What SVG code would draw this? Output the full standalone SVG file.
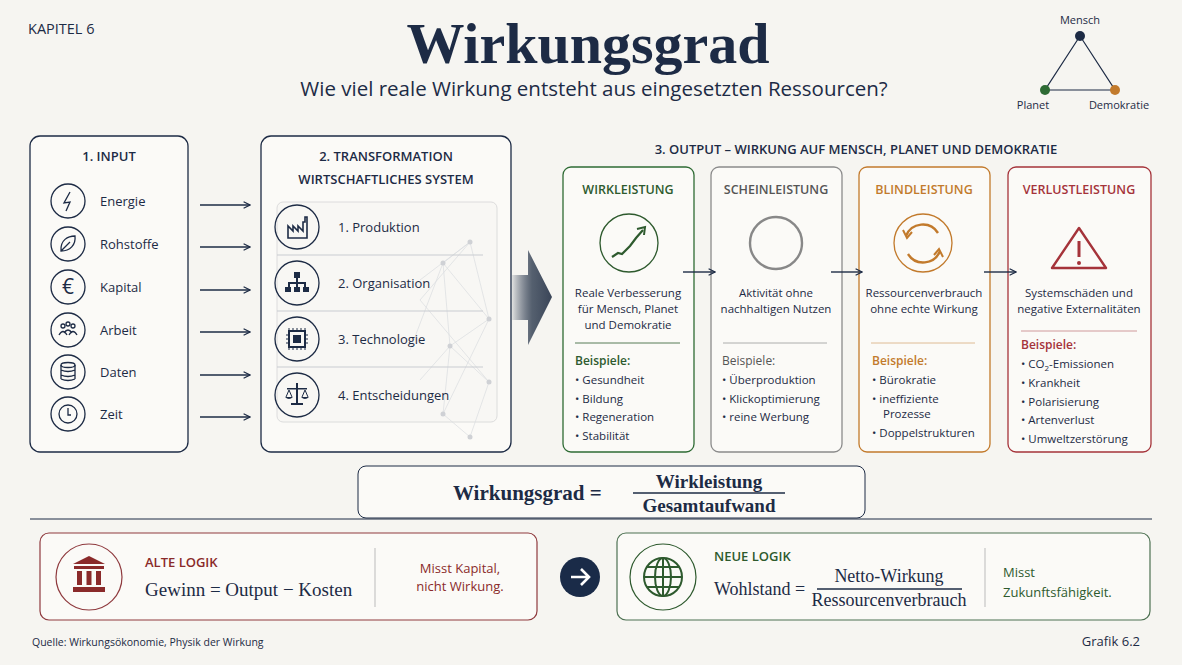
<svg xmlns="http://www.w3.org/2000/svg" width="1182" height="665" viewBox="0 0 1182 665">
<defs>
<style>
.s{font-family:"Open Sans","Liberation Sans",sans-serif;fill:#1d2b45}
.sr{font-family:"Liberation Serif","DejaVu Serif",serif;fill:#1d2b45}
.box{fill:#fbfaf7;stroke:#1d2b45;stroke-width:1.3}
.ic{fill:none;stroke:#1d2b45;stroke-width:1.3}
.ln{stroke:#1d2b45;stroke-width:1.4;fill:none}
.t{font-size:13px}
.c{text-anchor:middle}
.h{font-size:13px;font-weight:600}
</style>
<marker id="ah" viewBox="0 0 10 10" refX="9" refY="5" markerWidth="8" markerHeight="8" orient="auto" markerUnits="userSpaceOnUse"><path d="M1 1 L9 5 L1 9" fill="none" stroke="#1d2b45" stroke-width="1.5"/></marker>
<linearGradient id="ga" x1="0" x2="1" y1="0" y2="0"><stop offset="0" stop-color="#1d2b45" stop-opacity="0.1"/><stop offset="0.5" stop-color="#55606f"/><stop offset="1" stop-color="#3a4558"/></linearGradient>
</defs>
<rect width="1182" height="665" fill="#f6f5f1"/>
<text x="28" y="34" class="s" font-size="14.5">KAPITEL 6</text>
<text x="588" y="63" class="sr c" font-size="58" font-weight="bold">Wirkungsgrad</text>
<text x="594" y="96" class="s c" font-size="20.5">Wie viel reale Wirkung entsteht aus eingesetzten Ressourcen?</text>
<g id="triangle">
<path d="M1080 36 L1045 90 L1115 90 Z" fill="none" stroke="#1d2b45" stroke-width="1.2"/>
<circle cx="1080" cy="36" r="5" fill="#1d2b45"/><circle cx="1045" cy="90" r="5" fill="#2e6b34"/><circle cx="1115" cy="90" r="5" fill="#c27a2c"/>
<text x="1080" y="24" class="s c" font-size="11">Mensch</text>
<text x="1033" y="109" class="s c" font-size="11">Planet</text>
<text x="1119" y="109" class="s c" font-size="11">Demokratie</text>
</g>
<g id="input">
<rect x="30" y="136" width="158" height="316" rx="10" class="box"/>
<text x="109" y="161" class="s c h">1. INPUT</text>
<g class="ic"><circle cx="68" cy="201" r="17"/><circle cx="68" cy="244" r="17"/><circle cx="68" cy="287" r="17"/><circle cx="68" cy="330" r="17"/><circle cx="68" cy="372" r="17"/><circle cx="68" cy="414" r="17"/>
<path d="M70 192 L64 203 L70 202 L66 211"/>
<path d="M61 251 C60 240 68 236 75 236 C76 245 70 251 61 251 Z M61 251 L70 242"/>
<ellipse cx="68" cy="365" rx="7" ry="2.5"/><path d="M61 365 V379 M75 365 V379 M61 370 Q68 373 75 370 M61 375 Q68 378 75 375 M61 379 Q68 382 75 379"/>
<circle cx="68" cy="414" r="9"/><path d="M68 408 V415 H71"/>
<circle cx="63" cy="326" r="2"/><circle cx="68" cy="324" r="2"/><circle cx="73" cy="326" r="2"/><path d="M59 335 Q63 328 67 335 M64 333 Q68 327 72 333 M69 335 Q73 328 77 335"/>
</g>
<text x="68" y="294" class="s c" font-size="21">€</text>
<text x="100" y="206" class="s t">Energie</text><text x="100" y="249" class="s t">Rohstoffe</text><text x="100" y="292" class="s t">Kapital</text><text x="100" y="335" class="s t">Arbeit</text><text x="100" y="377" class="s t">Daten</text><text x="100" y="419" class="s t">Zeit</text>
</g>
<g id="transformation">
<rect x="261" y="136" width="250" height="316" rx="10" class="box"/>
<text x="386" y="161" class="s c h">2. TRANSFORMATION</text>
<text x="386" y="184" class="s c h">WIRTSCHAFTLICHES SYSTEM</text>
<rect x="277" y="202" width="220" height="220" rx="6" fill="#f8f7f4" stroke="#dcdcdc"/>
<g stroke="#dadcdf" stroke-width="0.7" fill="none"><path d="M470 242 L443 263 L489 319 L450 346 L489 382 L470 437 L443 414 L450 346 M470 242 L489 319 M443 263 L450 346 M470 242 L420 300 L489 382 M443 414 L489 319 M420 280 L470 242 M410 350 L443 263 M420 380 L450 346"/></g>
<g fill="#cfd1d5"><circle cx="470" cy="242" r="2.5"/><circle cx="443" cy="263" r="2.5"/><circle cx="489" cy="319" r="2.5"/><circle cx="450" cy="346" r="2.5"/><circle cx="489" cy="382" r="2.5"/><circle cx="443" cy="414" r="2.5"/><circle cx="470" cy="437" r="2.5"/></g>
<path d="M277 255 H483 M277 311 H483 M277 367 H483" stroke="#c9ccd1"/>
<g class="ic"><circle cx="297" cy="227" r="22"/><circle cx="297" cy="283" r="22"/><circle cx="297" cy="339" r="22"/><circle cx="297" cy="395" r="22"/></g>
<g fill="#1d2b45">
<path d="M288 238 V226 L293 231 V226 L298 231 V226 L303 231 V222 H305 V217 H307 V238 Z" fill="none" stroke="#1d2b45" stroke-width="1.6"/>
<rect x="294" y="272" width="6" height="6"/><rect x="296" y="278" width="2" height="4"/><rect x="288" y="282" width="18" height="2"/><rect x="288" y="282" width="2" height="5"/><rect x="296" y="282" width="2" height="5"/><rect x="304" y="282" width="2" height="5"/><rect x="285" y="287" width="6" height="5"/><rect x="294" y="287" width="6" height="5"/><rect x="303" y="287" width="6" height="5"/>
<rect x="289" y="331" width="16" height="16" fill="none" stroke="#1d2b45" stroke-width="2"/><rect x="293" y="335" width="8" height="8"/>
<path d="M296 383 h2 v20 h5 v2 h-12 v-2 h5 z M287 388 h20 v1.5 h-20 z M285 397 q4 4 8 0 z M301 397 q4 4 8 0 z"/>
</g>
<path d="M289 331 v-3 M293 331 v-3 M297 331 v-3 M301 331 v-3 M305 331 v-3 M289 347 v3 M293 347 v3 M297 347 v3 M301 347 v3 M305 347 v3 M289 335 h-3 M289 339 h-3 M289 343 h-3 M305 335 h3 M305 339 h3 M305 343 h3 M289 390 l-3 7 M289 390 l3 7 M305 390 l-3 7 M305 390 l3 7" stroke="#1d2b45" stroke-width="1"/>
<text x="338" y="232" class="s t">1. Produktion</text><text x="338" y="288" class="s t">2. Organisation</text><text x="338" y="344" class="s t">3. Technologie</text><text x="338" y="400" class="s t">4. Entscheidungen</text>
</g>
<g id="bigarrow"><path d="M512 275 H528 V250 L552 297 L528 345 V320 H512 Z" fill="url(#ga)"/></g>
<text x="856" y="154" class="s c h">3. OUTPUT – WIRKUNG AUF MENSCH, PLANET UND DEMOKRATIE</text>
<g id="wirkleistung">
<rect x="563" y="167" width="131" height="285" rx="8" fill="#fbfaf7" stroke="#2e6b34" stroke-width="1.3"/>
<text x="628" y="194" class="s c" font-size="12.5" font-weight="600" style="fill:#2e5a2e">WIRKLEISTUNG</text>
<circle cx="629" cy="243" r="29" fill="none" stroke="#2e5a2e" stroke-width="1.3"/>
<path d="M612 257 L618 253 L622 254 L630 246 L636 238 L643 230" fill="none" stroke="#2e5a2e" stroke-width="2.2"/><path d="M637 229 L645 227 L644 235" fill="none" stroke="#2e5a2e" stroke-width="2"/>
<g class="s c" font-size="11.5"><text x="628" y="297">Reale Verbesserung</text><text x="628" y="313">für Mensch, Planet</text><text x="628" y="329">und Demokratie</text></g>
<path d="M575 343 H680" stroke="#2e5a2e" stroke-width="0.8"/>
<text x="575" y="365" class="s" font-size="12" font-weight="600" style="fill:#2e5a2e">Beispiele:</text>
<g class="s" font-size="11.5"><text x="575" y="384">• Gesundheit</text><text x="575" y="403">• Bildung</text><text x="575" y="421">• Regeneration</text><text x="575" y="440">• Stabilität</text></g>
</g>
<g id="scheinleistung">
<rect x="711" y="167" width="131" height="285" rx="8" fill="#fbfaf7" stroke="#8b8b8b" stroke-width="1.3"/>
<text x="776" y="194" class="s c" font-size="12.5" font-weight="600" style="fill:#555">SCHEINLEISTUNG</text>
<circle cx="776" cy="243" r="26" fill="none" stroke="#888" stroke-width="2.4"/>
<g class="s c" font-size="11.5"><text x="776" y="297">Aktivität ohne</text><text x="776" y="313">nachhaltigen Nutzen</text></g>
<path d="M723 343 H827" stroke="#999" stroke-width="0.8"/>
<text x="722" y="365" class="s" font-size="12" style="fill:#555">Beispiele:</text>
<g class="s" font-size="11.5"><text x="722" y="384">• Überproduktion</text><text x="722" y="403">• Klickoptimierung</text><text x="722" y="421">• reine Werbung</text></g>
</g>
<g id="blindleistung">
<rect x="859" y="167" width="131" height="285" rx="8" fill="#fbfaf7" stroke="#c27a2c" stroke-width="1.3"/>
<text x="924" y="194" class="s c" font-size="12.5" font-weight="600" style="fill:#c27a2c">BLINDLEISTUNG</text>
<circle cx="923" cy="243" r="29" fill="none" stroke="#c27a2c" stroke-width="1.3"/>
<path d="M906 236 A18 18 0 0 1 938 233 M940 251 A18 18 0 0 1 908 254" fill="none" stroke="#c27a2c" stroke-width="2.4"/>
<path d="M903 230 L907 238 L912 232 M943 257 L939 249 L934 255" fill="none" stroke="#c27a2c" stroke-width="2"/>
<g class="s c" font-size="11.5"><text x="924" y="297">Ressourcenverbrauch</text><text x="924" y="313">ohne echte Wirkung</text></g>
<path d="M871 343 H975" stroke="#c27a2c" stroke-width="0.8" opacity="0.6"/>
<text x="872" y="365" class="s" font-size="12" font-weight="600" style="fill:#c27a2c">Beispiele:</text>
<g class="s" font-size="11.5"><text x="872" y="384">• Bürokratie</text><text x="872" y="403">• ineffiziente</text><text x="883" y="418">Prozesse</text><text x="872" y="437">• Doppelstrukturen</text></g>
</g>
<g id="verlustleistung">
<rect x="1008" y="167" width="143" height="285" rx="8" fill="#fbfaf7" stroke="#a5333a" stroke-width="1.3"/>
<text x="1079" y="194" class="s c" font-size="12.5" font-weight="600" style="fill:#a5333a">VERLUSTLEISTUNG</text>
<path d="M1079 228 L1106 268 H1052 Z" fill="none" stroke="#a5333a" stroke-width="2.4" stroke-linejoin="round"/>
<path d="M1079 241 V257" stroke="#a5333a" stroke-width="3"/><circle cx="1079" cy="263" r="2" fill="#a5333a"/>
<g class="s c" font-size="11.5"><text x="1079" y="297">Systemschäden und</text><text x="1079" y="313">negative Externalitäten</text></g>
<path d="M1021 331 H1137" stroke="#a5333a" stroke-width="0.8" opacity="0.6"/>
<text x="1021" y="349" class="s" font-size="12" font-weight="600" style="fill:#a5333a">Beispiele:</text>
<g class="s" font-size="11.5"><text x="1021" y="368">• CO<tspan font-size="8" dy="3">2</tspan><tspan dy="-3">-Emissionen</tspan></text><text x="1021" y="387">• Krankheit</text><text x="1021" y="406">• Polarisierung</text><text x="1021" y="424">• Artenverlust</text><text x="1021" y="443">• Umweltzerstörung</text></g>
</g>
<g id="connectors" class="ln" marker-end="url(#ah)">
<path d="M200 205 H250"/><path d="M200 247 H250"/><path d="M200 290 H250"/><path d="M200 332 H250"/><path d="M200 375 H250"/><path d="M200 417 H250"/>
<path d="M683 272 H715"/><path d="M831 272 H862"/><path d="M984 272 H1016"/>
</g>
<g id="formula">
<rect x="358" y="466" width="507" height="52" rx="8" fill="#fbfaf7" stroke="#1d2b45" stroke-width="1"/>
<text x="453" y="500" class="sr" font-size="21" font-weight="bold">Wirkungsgrad =</text>
<text x="709" y="488" class="sr c" font-size="19" font-weight="bold">Wirkleistung</text>
<path d="M633 493 H785" stroke="#1d2b45" stroke-width="1.5"/>
<text x="709" y="512" class="sr c" font-size="19" font-weight="bold">Gesamtaufwand</text>
</g>
<path d="M30 519 H1152" stroke="#1d2b45" stroke-width="1"/>
<g id="alte-logik">
<rect x="40" y="533" width="497" height="87" rx="9" fill="#fbfaf7" stroke="#8f3a3e" stroke-width="1.2"/>
<circle cx="89" cy="577" r="33" fill="none" stroke="#8f3a3e" stroke-width="1.2"/>
<path d="M73 564 L89 556 L105 564 Z M74 566 H104 V569 H74 Z M77 571 h5 v14 h-5 z M86.5 571 h5 v14 h-5 z M96 571 h5 v14 h-5 z M73 587 H105 V592 H73 Z" fill="#8a2a2a"/>
<text x="145" y="567" class="s" font-size="13" font-weight="600" style="fill:#8a2a2a">ALTE LOGIK</text>
<text x="145" y="596" class="sr" font-size="19">Gewinn = Output − Kosten</text>
<path d="M375 548 V607" stroke="#bbb"/>
<text x="460" y="573" class="s c" font-size="13" style="fill:#8a2a2a">Misst Kapital,</text>
<text x="460" y="591" class="s c" font-size="13" style="fill:#8a2a2a">nicht Wirkung.</text>
</g>
<g id="switch"><circle cx="580" cy="577" r="20" fill="#1a2b48"/><path d="M571 577 H588 M581 569 L589 577 L581 585" fill="none" stroke="#fff" stroke-width="2.6"/></g>
<g id="neue-logik">
<rect x="617" y="533" width="533" height="87" rx="9" fill="#fbfaf7" stroke="#4d7152" stroke-width="1.2"/>
<circle cx="663" cy="577" r="33" fill="none" stroke="#2e5a2e" stroke-width="1.2"/>
<g fill="none" stroke="#2e5a2e" stroke-width="2"><circle cx="663" cy="577" r="19"/><ellipse cx="663" cy="577" rx="8" ry="19"/><path d="M663 558 V596 M644 577 H682 M647 567 H679 M647 587 H679"/></g>
<text x="714" y="561" class="s" font-size="13" font-weight="600" style="fill:#2e5a2e">NEUE LOGIK</text>
<text x="714" y="595" class="sr" font-size="18">Wohlstand =</text>
<text x="889" y="582" class="sr c" font-size="18">Netto-Wirkung</text>
<path d="M817 589 H962" stroke="#1d2b45" stroke-width="1.5"/>
<text x="889" y="606" class="sr c" font-size="18">Ressourcenverbrauch</text>
<path d="M985 548 V607" stroke="#bbb"/>
<text x="1003" y="577" class="s" font-size="13" style="fill:#2e5a2e">Misst</text>
<text x="1003" y="597" class="s" font-size="13" style="fill:#2e5a2e">Zukunftsfähigkeit.</text>
</g>
<text x="32" y="646" class="s" font-size="10.5">Quelle: Wirkungsökonomie, Physik der Wirkung</text>
<text x="1140" y="646" class="s" font-size="13" text-anchor="end">Grafik 6.2</text>
</svg>
